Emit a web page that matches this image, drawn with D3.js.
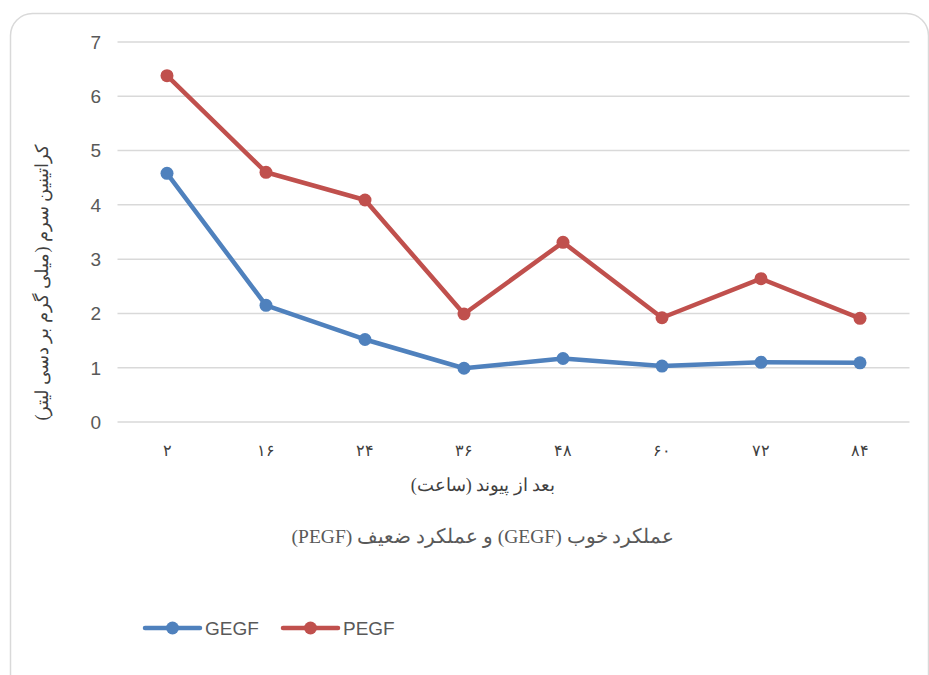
<!DOCTYPE html>
<html lang="fa">
<head>
<meta charset="UTF-8">
<title>GEGF / PEGF</title>
<script src="https://d3js.org/d3.v7.min.js"></script>
<style>
  body { margin: 0; background: #fff; }
  svg { display: block; }
  .tick-y { font-family: "Liberation Sans", Arial, sans-serif; font-size: 19px; fill: #595959; }
  .tick-x { font-family: "Liberation Serif", "DejaVu Serif", serif; font-size: 16px; fill: #404040; }
  .fa { font-family: "Liberation Serif", "DejaVu Serif", serif; fill: #404040; direction: rtl; unicode-bidi: embed; }
  .legend { font-family: "Liberation Sans", Arial, sans-serif; font-size: 19px; fill: #595959; }
</style>
</head>
<body>
<svg id="chart" width="929" height="675"></svg>
<script>
const categories = ["۲", "۱۶", "۲۴", "۳۶", "۴۸", "۶۰", "۷۲", "۸۴"];
const gegf = [4.58, 2.15, 1.52, 0.99, 1.17, 1.03, 1.10, 1.09];
const pegf = [6.38, 4.60, 4.09, 1.99, 3.31, 1.92, 2.64, 1.91];
const yTicks = [0, 1, 2, 3, 4, 5, 6, 7];
const seriesNames = ["GEGF", "PEGF"];
const colors = ["#4f81bd", "#c0504d"];

const xAxisTitle = "بعد از پیوند (ساعت)";
const yAxisTitle = "کراتینین سرم (میلی گرم بر دسی لیتر)";
const caption = "عملکرد خوب (GEGF) و عملکرد ضعیف (PEGF)";

const svg = d3.select("#chart");

// outer frame (cut off at right / bottom like the source image)
svg.append("rect")
   .attr("x", 10.5).attr("y", 13.5)
   .attr("width", 918).attr("height", 690)
   .attr("rx", 22).attr("ry", 22)
   .attr("fill", "#fff")
   .attr("stroke", "#d9d9d9")
   .attr("stroke-width", 1.5);

const plotL = 117.5, plotR = 909.5, plotT = 42, plotB = 422;

const x = d3.scaleBand().domain(categories).range([plotL, plotR]);
const y = d3.scaleLinear().domain([0, 7]).range([plotB, plotT]);

// gridlines
svg.append("g").selectAll("line")
   .data(yTicks)
   .join("line")
   .attr("x1", plotL).attr("x2", plotR)
   .attr("y1", d => y(d)).attr("y2", d => y(d))
   .attr("stroke", "#d9d9d9")
   .attr("stroke-width", 1.5);

// y tick labels
svg.append("g").selectAll("text")
   .data(yTicks)
   .join("text")
   .attr("class", "tick-y")
   .attr("x", 101)
   .attr("y", d => y(d))
   .attr("dy", "0.36em")
   .attr("text-anchor", "end")
   .text(d => d);

// x tick labels
svg.append("g").selectAll("text")
   .data(categories)
   .join("text")
   .attr("class", "tick-x")
   .attr("x", d => x(d) + x.bandwidth() / 2)
   .attr("y", 456)
   .attr("text-anchor", "middle")
   .text(d => d);

// axis titles
svg.append("text")
   .attr("class", "fa")
   .attr("x", 483).attr("y", 491)
   .attr("text-anchor", "middle")
   .style("font-size", "18px")
   .text(xAxisTitle);

svg.append("text")
   .attr("class", "fa")
   .attr("transform", "translate(48,282) rotate(-90)")
   .attr("text-anchor", "middle")
   .style("font-size", "18px")
   .text(yAxisTitle);

svg.append("text")
   .attr("class", "fa")
   .attr("x", 483).attr("y", 543)
   .attr("text-anchor", "middle")
   .style("font-size", "19.5px")
   .style("fill", "#595959")
   .text(caption);

// series
const line = d3.line()
   .x((d, i) => x(categories[i]) + x.bandwidth() / 2)
   .y(d => y(d));

[gegf, pegf].forEach((vals, s) => {
  const g = svg.append("g");
  g.append("path")
   .attr("d", line(vals))
   .attr("fill", "none")
   .attr("stroke", colors[s])
   .attr("stroke-width", 4.5)
   .attr("stroke-linejoin", "round");
  g.selectAll("circle")
   .data(vals)
   .join("circle")
   .attr("cx", (d, i) => x(categories[i]) + x.bandwidth() / 2)
   .attr("cy", d => y(d))
   .attr("r", 6.5)
   .attr("fill", colors[s]);
});

// legend
const legendX = [145, 283];
seriesNames.forEach((name, s) => {
  const g = svg.append("g").attr("transform", `translate(${legendX[s]},628)`);
  g.append("line")
   .attr("x1", 0).attr("x2", 55)
   .attr("stroke", colors[s])
   .attr("stroke-width", 4.5)
   .attr("stroke-linecap", "round");
  g.append("circle").attr("cx", 27.5).attr("r", 6.5).attr("fill", colors[s]);
  g.append("text")
   .attr("class", "legend")
   .attr("x", 60).attr("dy", "0.36em")
   .text(name);
});
</script>
</body>
</html>
